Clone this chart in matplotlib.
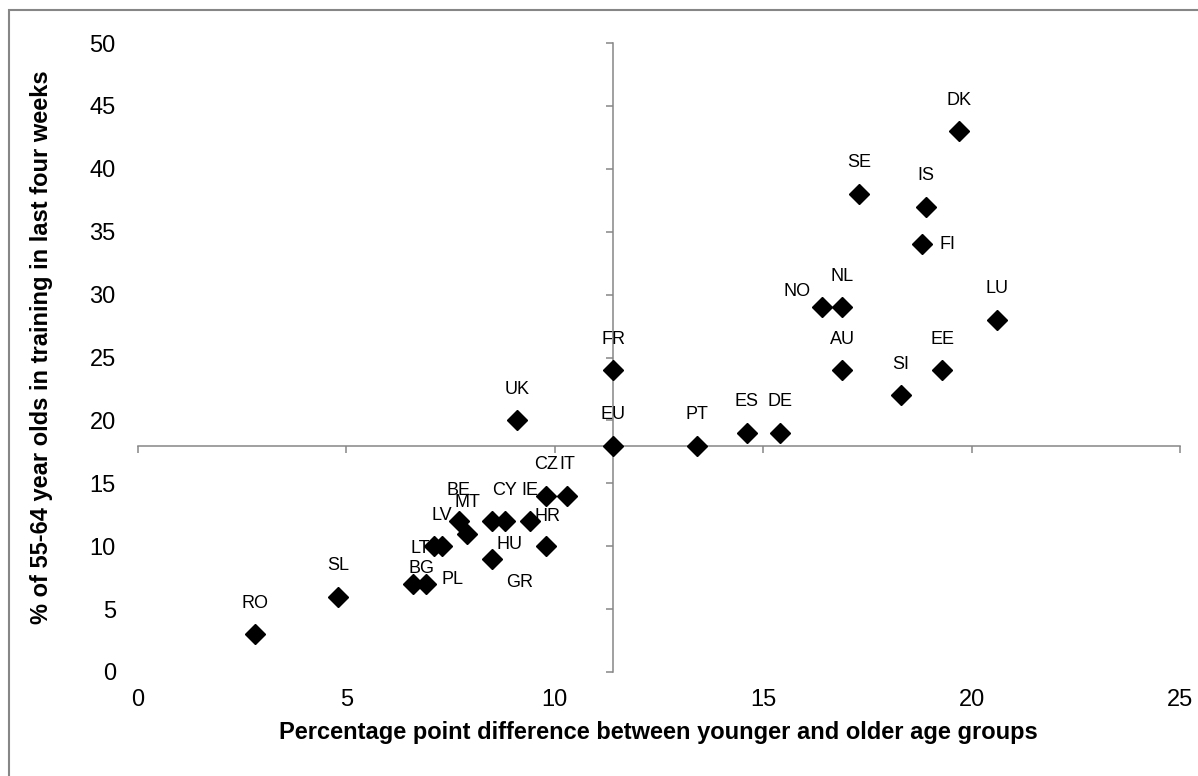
import matplotlib
matplotlib.use("Agg")
import matplotlib.pyplot as plt
from matplotlib.patches import Rectangle

plt.rcParams['font.family'] = ['Liberation Sans', 'DejaVu Sans']

# datos
paises = ['RO', 'SL', 'BG', 'PL', 'LT', 'LV', 'BE', 'MT', 'HR', 'CY', 'IE', 'HU',
          'CZ', 'IT', 'GR', 'UK', 'EU', 'FR', 'PT', 'ES', 'DE', 'AU', 'NO', 'NL',
          'SI', 'EE', 'FI', 'IS', 'SE', 'LU', 'DK']
diferencia = [2.8, 4.8, 6.6, 6.9, 7.1, 7.3, 7.7, 7.9, 8.5, 8.8, 9.4, 8.5,
              9.8, 10.3, 9.8, 9.1, 11.4, 11.4, 13.4, 14.6, 15.4, 16.9, 16.4, 16.9,
              18.3, 19.3, 18.8, 18.9, 17.3, 20.6, 19.7]
formacion_55_64 = [3, 6, 7, 7, 10, 10, 12, 11, 12, 12, 12, 9,
                   14, 14, 10, 20, 18, 24, 18, 19, 19, 24, 29, 29,
                   22, 24, 34, 37, 38, 28, 43]

# desplazamiento de cada etiqueta (pixeles, x derecha / y arriba)
arriba = (0, 31)
desplaz = {p: arriba for p in paises}
desplaz.update({'BG': (8, 15), 'PL': (27, 4), 'LT': (-14, -2), 'HR': (55, 5),
                'HU': (17, 14), 'GR': (-27, -36), 'NO': (-24, 16), 'FI': (26, 0)})

gris = '#868686'

fig = plt.figure(figsize=(11.98, 7.76), dpi=100)
ax = fig.add_axes([138/1198, 1 - 672/776, (1180 - 138)/1198, (672 - 43)/776])

ax.plot(diferencia, formacion_55_64, linestyle='none', marker='D', markersize=10,
        color='black', zorder=4, clip_on=False)

for p, x, y in zip(paises, diferencia, formacion_55_64):
    dx, dy = desplaz[p]
    ax.annotate(p, (x, y), xytext=(dx * 0.72, dy * 0.72), textcoords='offset points',
                ha='center', va='center', fontsize=13, zorder=3)

ax.set_xlim(0, 25)
ax.set_ylim(0, 50)
ax.set_xticks(range(0, 26, 5))
ax.set_yticks(range(0, 51, 5))

# ejes cruzados en EU (11.4, 18)
ax.spines['left'].set_visible(False)
ax.spines['bottom'].set_visible(False)
ax.spines['right'].set_position(('data', 11.4))
ax.spines['top'].set_position(('data', 18))
for s in ['right', 'top']:
    ax.spines[s].set_color(gris)
    ax.spines[s].set_linewidth(1.1)

ax.tick_params(axis='x', bottom=False, top=True, labelbottom=True, labeltop=False,
               direction='in', length=5, width=1.1, color=gris, labelsize=17, pad=12)
ax.tick_params(axis='y', left=False, right=True, labelleft=True, labelright=False,
               direction='in', length=5, width=1.1, color=gris, labelsize=17, pad=16)

fig.text(658/1198, 1 - 733/776, 'Percentage point difference between younger and older age groups',
         ha='center', va='center', fontsize=17, fontweight='bold')
fig.text(42/1198, 1 - 347/776, '% of 55-64 year olds in training in last four weeks',
         ha='center', va='center', rotation=90, fontsize=17, fontweight='bold')

# marco gris exterior
fig.patches.append(Rectangle((9/1198, -0.1), 1.2, 1.1 - 10/776, transform=fig.transFigure,
                             fill=False, edgecolor=gris, linewidth=1.5))

fig.savefig('out.png', dpi=100)
